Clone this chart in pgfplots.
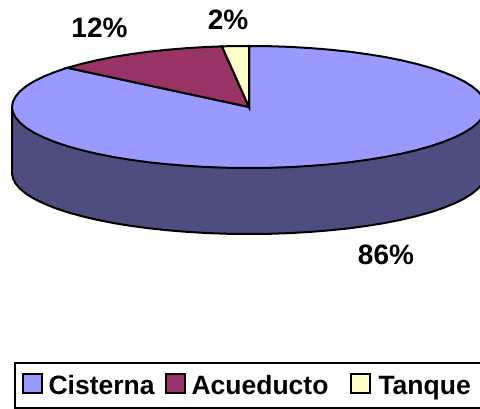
\documentclass[border=0pt]{standalone}
\usepackage{pgfplots}
\pgfplotsset{compat=1.18}
\usepackage{fontspec}
\setmainfont{Liberation Sans}
\definecolor{cist}{HTML}{9999FF}
\definecolor{acue}{HTML}{993366}
\definecolor{tanq}{HTML}{FFFFCC}
\definecolor{wall}{HTML}{4D4D80}
\begin{document}
\begin{tikzpicture}
\begin{axis}[
  scale only axis, width=480pt, height=409pt,
  xmin=0, xmax=480, ymin=0, ymax=409, y dir=reverse,
  hide axis,
  legend columns=3,
  legend cell align=left,
  legend style={at={(0.0292,0.1149)},anchor=north west,draw=black,line width=2pt,
    inner xsep=7pt,inner ysep=10pt,
    font=\fontsize{26.5}{30}\selectfont\bfseries,
    /tikz/every even column/.append style={column sep=0pt},
    nodes={inner sep=2pt,anchor=base west}},
  legend image code/.code={\draw[#1,line width=2pt] (0pt,2pt) rectangle (18.5pt,20.5pt);\path (22.5pt,0pt);},
]
\addplot[fill=wall,draw=black,line width=2pt,forget plot] coordinates {
(12,107)(12,173)(12.9,178.3)(15.6,183.6)(20.1,188.8)(26.3,193.9)(34.2,198.8)(43.8,203.5)(54.9,208)(67.4,212.2)(81.4,216.1)(96.7,219.7)(113.1,223)(130.5,225.8)(148.8,228.3)(167.9,230.3)(187.7,231.9)(207.9,233.1)(228.3,233.8)(249,234)(269.7,233.8)(290.1,233.1)(310.3,231.9)(330.1,230.3)(349.2,228.3)(367.5,225.8)(384.9,223)(401.3,219.7)(416.6,216.1)(430.6,212.2)(443.1,208)(454.2,203.5)(463.8,198.8)(471.7,193.9)(477.9,188.8)(482.4,183.6)(485.1,178.3)(486,173)(486,107)} --cycle;
\addplot[fill=cist,draw=black,line width=2pt] coordinates {
(249,107)(249,46)(269.7,46.2)(290.1,46.9)(310.3,48.1)(330.1,49.7)(349.2,51.7)(367.5,54.2)(384.9,57)(401.3,60.3)(416.6,63.9)(430.6,67.8)(443.1,72)(454.2,76.5)(463.8,81.2)(471.7,86.1)(477.9,91.2)(482.4,96.4)(485.1,101.7)(486,107)(485.1,112.3)(482.4,117.6)(477.9,122.8)(471.7,127.9)(463.8,132.8)(454.2,137.5)(443.1,142)(430.6,146.2)(416.6,150.1)(401.3,153.7)(384.9,157)(367.5,159.8)(349.2,162.3)(330.1,164.3)(310.3,165.9)(290.1,167.1)(269.7,167.8)(249,168)(228.3,167.8)(207.9,167.1)(187.7,165.9)(167.9,164.3)(148.8,162.3)(130.5,159.8)(113.1,157)(96.7,153.7)(81.4,150.1)(67.4,146.2)(54.9,142)(43.8,137.5)(34.2,132.8)(26.3,127.9)(20.1,122.8)(15.6,117.6)(12.9,112.3)(12,107)(12.9,101.7)(15.6,96.4)(20.1,91.2)(26.3,86.1)(34.2,81.2)(43.8,76.5)(54.9,72)(67.4,67.8)} --cycle;
\addlegendentry{\makebox[114.5pt][l]{Cisterna}}
\addplot[fill=acue,draw=black,line width=2pt] coordinates {
(249,107)(67.4,67.8)(81.4,63.9)(96.7,60.3)(113.1,57)(130.5,54.2)(148.8,51.7)(167.9,49.7)(187.7,48.1)(207.9,46.9)(222,46.4)} --cycle;
\addlegendentry{\makebox[156.5pt][l]{Acueducto}}
\addplot[fill=tanq,draw=black,line width=2pt] coordinates {
(249,107)(222,46.4)(228.3,46.2)(249,46)} --cycle;
\addlegendentry{\makebox[120pt][l]{\hspace*{2pt}Tanque}}
\node[font=\fontsize{28}{30}\selectfont\bfseries] at (axis cs:99.5,28) {12\%};
\node[font=\fontsize{28}{30}\selectfont\bfseries] at (axis cs:228,20) {2\%};
\node[font=\fontsize{28}{30}\selectfont\bfseries] at (axis cs:386,255) {86\%};
\end{axis}
\pgfresetboundingbox
\path[use as bounding box] (0,0) rectangle (480pt,409pt);
\end{tikzpicture}
\end{document}
